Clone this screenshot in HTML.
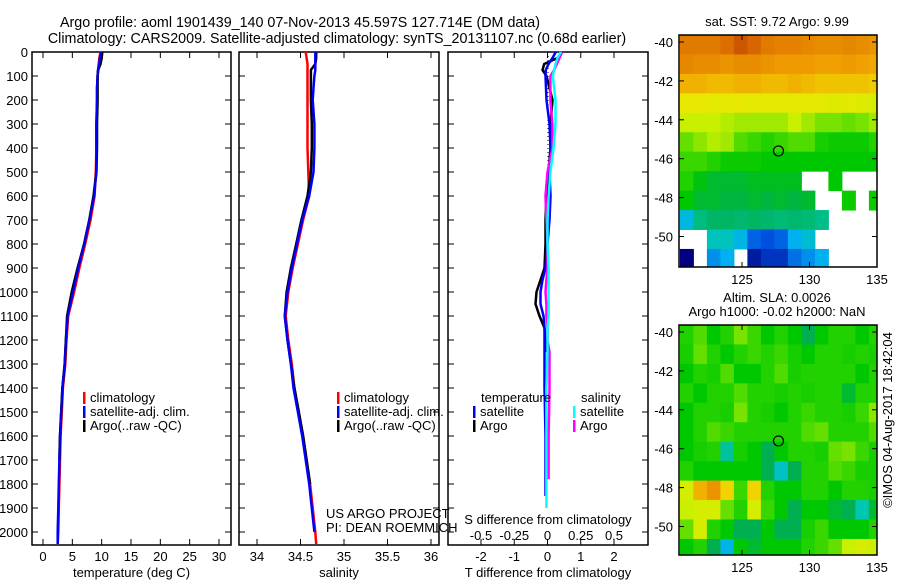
<!DOCTYPE html>
<html><head><meta charset="utf-8"><style>
body{margin:0;background:#fff;}
svg{display:block;font-family:"Liberation Sans",sans-serif;font-size:13px;}
</style></head><body>
<svg id="c" width="900" height="580" viewBox="0 0 900 580"></svg>
<script>
// ---------- data ----------
const depths = [0,25,50,75,100,150,200,300,400,500,600,700,800,900,1000,1100,1200,1300,1400,1500,1600,1700,1800,1900,2000,2050];
const tempClim = [9.8,9.6,9.5,9.4,9.3,9.2,9.2,9.1,9.1,9.0,8.8,8.1,7.2,6.2,5.3,4.3,4.0,3.8,3.4,3.2,3.0,2.9,2.8,2.7,2.6,2.5];
const tempSat  = [9.9,9.7,9.6,9.4,9.3,9.2,9.2,9.1,9.1,9.1,8.7,7.9,7.0,6.0,5.1,4.2,3.9,3.7,3.3,3.1,2.9,2.8,2.7,2.6,2.5,2.5];
const tempArgo = [10.1,10.0,9.8,9.4,9.3,9.3,9.3,9.2,9.2,9.1,8.6,7.9,7.0,5.9,4.9,4.1,3.9,3.7,3.3,3.1,2.9,2.8,null,null,null,null];
const salClim = [34.56,34.57,34.58,34.58,34.58,34.58,34.58,34.58,34.58,34.59,34.6,34.53,34.47,34.41,34.36,34.33,34.36,34.40,34.43,34.48,34.53,34.57,34.61,34.64,34.67,34.68];
const salSat  = [34.67,34.67,34.67,34.67,34.66,34.65,34.64,34.66,34.66,34.65,34.6,34.52,34.46,34.40,34.35,34.32,34.35,34.39,34.42,34.47,34.52,34.56,34.60,34.63,34.66,null];
const salArgo = [34.68,34.68,34.67,34.62,34.62,34.62,34.62,34.63,34.63,34.62,34.58,34.51,34.45,34.39,34.34,34.32,34.35,34.39,34.43,34.48,34.53,34.57,34.61,null,null,null];
const diffDepths = [0,25,50,75,100,200,300,400,500,600,700,800,900,950,1000,1050,1100,1150,1200,1250,1400,1600,1780,1850,1900];
const tDiffSat  = [0.25,0.15,0.03,-0.05,-0.06,-0.03,0.06,0.09,0.06,0.09,0.06,0.0,-0.06,-0.15,-0.21,-0.21,-0.12,-0.09,-0.09,-0.09,-0.09,-0.06,-0.06,-0.06,null];
const tDiffArgo = [0.42,0.3,-0.1,-0.15,-0.03,0.15,0.09,0.09,0.03,-0.03,-0.06,-0.06,-0.09,-0.21,-0.33,-0.36,-0.24,-0.09,-0.06,-0.03,null,null,null,null,null];
const sDiffSat  = [0.1,0.075,0.06,0.05,0.04,0.06,0.06,0.045,0.022,0.008,0.0,0.0,0.008,0.008,0.008,0.008,0.008,0.0,0.0,0.0,-0.008,-0.008,-0.008,-0.008,-0.008];
const sDiffArgo = [0.11,0.09,0.07,0.05,0.022,0.022,0.037,0.037,0.0,-0.015,-0.008,0.0,0.0,-0.008,-0.015,-0.008,-0.008,0.0,0.0,0.015,0.015,0.008,0.008,null,null];
const depthTicks = [0,100,200,300,400,500,600,700,800,900,1000,1100,1200,1300,1400,1500,1600,1700,1800,1900,2000];
const tempTicks = [0,5,10,15,20,25,30];
const salTicks = [34,34.5,35,35.5,36];
const tDiffTicks = [-2,-1,0,1,2];
const sDiffTicks = [-0.5,-0.25,0,0.25,0.5];
const latTicks = [-40,-42,-44,-46,-48,-50];
const lonTicks = [125,130,135];
const sstGrid = [
[0.88,0.88,0.88,0.9,0.93,0.91,0.88,0.87,0.87,0.86,0.85,0.85,0.86,0.85,0.84],
[0.86,0.85,0.85,0.84,0.85,0.85,0.84,0.83,0.83,0.83,0.82,0.82,0.83,0.82,0.81],
[0.8,0.8,0.79,0.79,0.8,0.8,0.79,0.79,0.8,0.79,0.78,0.78,0.78,0.78,0.77],
[0.73,0.73,0.72,0.72,0.73,0.72,0.72,0.72,0.72,0.72,0.72,0.71,0.72,0.71,0.7],
[0.68,0.68,0.68,0.67,0.66,0.66,0.66,0.66,0.68,0.66,0.64,0.64,0.63,0.64,0.66],
[0.63,0.65,0.67,0.66,0.62,0.6,0.58,0.6,0.62,0.62,0.57,0.56,0.56,0.56,0.58],
[0.6,0.6,0.58,0.56,0.56,0.56,0.55,0.55,0.55,0.55,0.55,0.55,0.55,0.55,0.55],
[0.58,0.54,0.52,0.52,0.52,0.53,0.53,0.53,0.53,null,null,0.55,null,null,null],
[0.55,0.52,0.52,0.51,0.51,0.52,0.51,0.52,0.51,0.52,null,null,0.56,null,0.56],
[0.33,0.45,0.48,0.48,0.47,0.48,0.47,0.46,0.47,0.46,0.44,null,null,null,null],
[null,null,0.38,0.38,0.32,0.18,0.15,0.18,0.3,0.35,null,null,null,null,null],
[0.0,null,0.25,0.3,null,0.05,0.1,0.1,0.2,0.25,0.3,null,null,null,null]];
const slaGrid = [
[0.58,0.62,0.55,0.58,0.64,0.6,0.55,0.58,0.55,0.5,0.55,0.58,0.58,0.55,0.58],
[0.57,0.63,0.58,0.55,0.58,0.6,0.58,0.6,0.57,0.55,0.58,0.58,0.57,0.58,0.57],
[0.55,0.58,0.57,0.62,0.55,0.55,0.58,0.62,0.57,0.58,0.58,0.58,0.58,0.55,0.58],
[0.58,0.55,0.58,0.58,0.62,0.58,0.58,0.57,0.58,0.57,0.58,0.58,0.52,0.58,0.58],
[0.55,0.58,0.58,0.57,0.64,0.58,0.57,0.55,0.58,0.6,0.58,0.58,0.57,0.6,0.65],
[0.55,0.58,0.62,0.6,0.58,0.58,0.58,0.58,0.58,0.62,0.63,0.58,0.58,0.58,0.62],
[0.55,0.57,0.58,0.42,0.57,0.55,0.5,0.55,0.58,0.58,0.57,0.63,0.64,0.6,0.57],
[0.58,0.55,0.55,0.55,0.55,0.55,0.5,0.37,0.5,0.58,0.58,0.62,0.6,0.57,0.57],
[0.7,0.8,0.84,0.76,0.6,0.76,0.58,0.55,0.55,0.58,0.58,0.55,0.58,0.58,0.57],
[0.68,0.7,0.7,0.63,0.58,0.7,0.6,0.55,0.5,0.55,0.55,0.52,0.5,0.4,0.52],
[0.63,0.7,0.58,0.55,0.5,0.5,0.55,0.5,0.5,0.57,0.6,0.55,0.55,0.55,0.58],
[0.55,0.58,0.5,0.32,0.55,0.52,0.55,0.55,0.55,0.58,0.6,0.63,0.68,0.7,0.68]];
const floatLon = [127.7];
const floatLat = [-45.6];

// ---------- helpers ----------
const svg = document.getElementById('c');
const NS = 'http://www.w3.org/2000/svg';
function el(tag, attrs, parent){const e=document.createElementNS(NS,tag);for(const k in attrs)e.setAttribute(k,attrs[k]);(parent||svg).appendChild(e);return e;}
function txt(x,y,s,anchor,parent){const t=el('text',{x:x,y:y,'text-anchor':anchor||'start',fill:'#000'},parent);t.textContent=s;return t;}
const yD = d => 52 + d*0.24;
const PB = 545;
function lin(d0,d1,r0,r1){return v=>r0+(v-d0)*(r1-r0)/(d1-d0);}

function panel(name,x0,x1,xs,ticks,fmt,showLbl,label){
  const g=el('g',{});
  
  
  el('rect',{x:x0,y:52,width:x1-x0,height:PB-52,fill:'none',stroke:'#000','stroke-width':1.5},g);
  depthTicks.forEach(d=>{
    el('line',{x1:x0,x2:x0+6,y1:yD(d),y2:yD(d),stroke:'#000'},g);
    el('line',{x1:x1-6,x2:x1,y1:yD(d),y2:yD(d),stroke:'#000'},g);
    if(showLbl){const t=txt(28,yD(d)+5,String(d),'end',g);}
  });
  if(ticks) ticks.forEach(v=>{
    el('line',{x1:xs(v),x2:xs(v),y1:52,y2:58,stroke:'#000'},g);
    el('line',{x1:xs(v),x2:xs(v),y1:PB-6,y2:PB,stroke:'#000'},g);
    const t=txt(xs(v),561,fmt(v),'middle',g);
    
  });
  if(label){const t=txt((x0+x1)/2,577,label,'middle',g);}
  return g;
}
function series(name,ds,vals,xs,color,w){
  let pts=[];
  ds.forEach((d,i)=>{if(vals[i]!=null)pts.push(xs(vals[i]).toFixed(1)+','+yD(d).toFixed(1));});
  const p=el('polyline',{points:pts.join(' '),fill:'none',stroke:color,'stroke-width':w||2.5});
  
  
}
function legend(items,x,y,prefix){
  items.forEach((it,i)=>{
    const r=el('rect',{x:x,y:y+i*14-10,width:2.5,height:12,fill:it[1]});
    
    const t=txt(x+7,y+i*14,it[0]);
    
  });
}

// titles
let t=txt(300,27,'Argo profile: aoml 1901439_140 07-Nov-2013 45.597S 127.714E (DM data)','middle');
t.setAttribute('font-size','14.3');

t=txt(337,43,'Climatology: CARS2009. Satellite-adjusted climatology: synTS_20131107.nc (0.68d earlier)','middle');
t.setAttribute('font-size','14.3');


// panel 1 temperature
const xT=lin(0,30,43,219);
panel('temperature-panel',32,231,xT,tempTicks,v=>String(v),true,'temperature (deg C)');
series('temp-climatology-line',depths,tempClim,xT,'#f00');
series('temp-satellite-line',depths,tempSat,xT,'#00f');
series('temp-argo-line',depths,tempArgo,xT,'#000');
series('temp-satellite-line-top',depths,tempSat,xT,'#00f',2);
legend([['climatology','#f00'],['satellite-adj. clim.','#00f'],['Argo(..raw -QC)','#000']],83,402,'temp');

// panel 2 salinity
const xS=lin(34,36,257,431);
panel('salinity-panel',239,439,xS,salTicks,v=>String(v),false,'salinity');
series('sal-climatology-line',depths,salClim,xS,'#f00');
series('sal-argo-line',depths,salArgo,xS,'#000');
series('sal-satellite-line',depths,salSat,xS,'#00f');
legend([['climatology','#f00'],['satellite-adj. clim.','#00f'],['Argo(..raw -QC)','#000']],337,402,'sal');
t=txt(326,518,'US ARGO PROJECT');
t=txt(326,532,'PI: DEAN ROEMMICH');

// panel 3 differences
const xTd=lin(-2,2,481,614);
const xSd=lin(-0.5,0.5,481,614);
panel('difference-panel',448,648,xTd,tDiffTicks,v=>String(v),false,'T difference from climatology');
const zl=el('line',{x1:548,x2:548,y1:52,y2:yD(600),stroke:'#000','stroke-dasharray':'1,3'});

series('t-diff-argo-line',diffDepths,tDiffArgo,xTd,'#000');
series('t-diff-satellite-line',diffDepths,tDiffSat,xTd,'#00f');
series('s-diff-argo-line',diffDepths,sDiffArgo,xSd,'#f0f');
series('s-diff-satellite-line',diffDepths,sDiffSat,xSd,'#0ff');
sDiffTicks.forEach(v=>{const s=txt(xSd(v),540,String(v),'middle');});
t=txt(548,524,'S difference from climatology','middle');
t=txt(481,402,'temperature');
t=txt(581,402,'salinity');
legend([['satellite','#00f'],['Argo','#000']],473,416,'t-diff');
legend([['satellite','#0ff'],['Argo','#f0f']],573,416,'s-diff');

// colormap
const cstops=[[0,[0,0,128]],[0.15,[0,80,224]],[0.3,[0,176,240]],[0.4,[0,200,176]],[0.5,[0,176,80]],[0.55,[0,200,0]],[0.62,[80,220,0]],[0.68,[200,240,0]],[0.74,[240,230,0]],[0.82,[240,160,0]],[0.9,[220,110,0]],[1,[170,30,0]]];
function cmap(v){for(let i=1;i<cstops.length;i++){if(v<=cstops[i][0]){const a=cstops[i-1],b=cstops[i],f=(v-a[0])/(b[0]-a[0]);const c=a[1].map((q,k)=>Math.round(q+(b[1][k]-q)*f));return 'rgb('+c+')';}}return 'rgb(170,30,0)';}

function map(name,y0,y1,yLat40,grid,title){
  const g=el('g',{});
  
  
  const x0=679,x1=877;
  const xL=lin(125,135,742,877);
  const yL=lin(-40,-50,yLat40,yLat40+194.5);
  const topLat=-39.64;
  grid.forEach((row,r)=>{row.forEach((v,c)=>{
    if(v==null)return;
    const lon0=120.4+c,la0=topLat-r;
    const xa=Math.max(x0,xL(lon0)),xb=Math.min(x1,xL(lon0+1));
    const ya=Math.max(y0,yL(la0)),yb=Math.min(y1,yL(la0-1));
    if(yb<=ya)return;
    const cell=el('rect',{x:xa,y:ya,width:xb-xa+0.5,height:yb-ya+0.5,fill:cmap(v)},g);
    
    
  });});
  el('rect',{x:x0,y:y0,width:x1-x0,height:y1-y0,fill:'none',stroke:'#000','stroke-width':1.5},g);
  latTicks.forEach(v=>{
    el('line',{x1:x0,x2:x0+5,y1:yL(v),y2:yL(v),stroke:'#000'},g);
    el('line',{x1:x1-5,x2:x1,y1:yL(v),y2:yL(v),stroke:'#000'},g);
    const l=txt(673,yL(v)+5,String(v),'end',g);
  });
  lonTicks.forEach(v=>{
    el('line',{x1:xL(v),x2:xL(v),y1:y0,y2:y0+5,stroke:'#000'},g);
    el('line',{x1:xL(v),x2:xL(v),y1:y1-5,y2:y1,stroke:'#000'},g);
    const l=txt(xL(v),y1+17,String(v),'middle',g);
  });
  floatLon.forEach((lo,i)=>{
    const m=el('circle',{cx:xL(lo),cy:yL(floatLat[i]),r:5,fill:'none',stroke:'#000','stroke-width':1.2},g);
    
  });
  title.forEach((s,i)=>{const l=txt(777,y0-9-(title.length-1-i)*14,s,'middle',g);});
}
map('sst-map',35,267,42,sstGrid,['sat. SST: 9.72 Argo: 9.99']);
map('sla-map',325,555,332,slaGrid,['Altim. SLA: 0.0026','Argo h1000: -0.02 h2000: NaN']);
t=txt(0,0,'©IMOS 04-Aug-2017 18:42:04','middle');
t.setAttribute('transform','translate(892,420) rotate(-90)');

</script>
</body></html>
